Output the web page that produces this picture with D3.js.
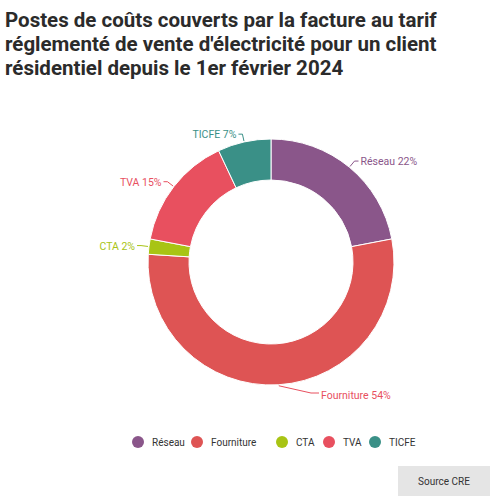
<!DOCTYPE html><html><head><meta charset="utf-8"><script src="https://cdn.jsdelivr.net/npm/d3@7"></script>
<style>body{margin:0;background:#fff;font-family:Roboto,sans-serif}</style></head><body><svg width="500" height="502"></svg>
<script>
const categories=["Réseau","Fourniture","CTA","TVA","TICFE"];
const values=[22,54,2,15,7];
const colors=["#8a568a","#de5454","#a8c414","#e8505f","#3a9087"];
const titleLines=["Postes de coûts couverts par la facture au tarif","réglementé de vente d'électricité pour un client","résidentiel depuis le 1er février 2024"];
const svg=d3.select("svg");
svg.selectAll("text.t").data(titleLines).join("text").attr("x",5).attr("y",(d,i)=>27+i*24)
 .attr("font-size",20.5).attr("font-weight",700).attr("fill","#2b2b2b").text(d=>d);
const cx=271,cy=262,R=123,r=82;
const g=svg.append("g").attr("transform",`translate(${cx},${cy})`);
const pie=d3.pie().sort(null).value(d=>d)(values);
const arc=d3.arc().innerRadius(r).outerRadius(R);
g.selectAll("path").data(pie).join("path").attr("d",arc).attr("fill",(d,i)=>colors[i]).attr("stroke","#fff").attr("stroke-width",1);
const lblColors=["#8a568a","#e8505f","#a8c414","#e8505f","#3a9087"];
pie.forEach((d,i)=>{
 const a=(d.startAngle+d.endAngle)/2;
 const p1=[Math.sin(a)*(R+1),-Math.cos(a)*(R+1)];
 const p2=[Math.sin(a)*(R+8),-Math.cos(a)*(R+8)];
 let right=Math.sin(a)>=0; if(i===1) right=true;
 let p3=[p2[0]+(right?4:-4),p2[1]];
 if(i===1){p2[0]=40;p2[1]=R+8;p3=[48,R+8];}
 g.append("polyline").attr("points",[p1,p2,p3].map(p=>p.join(",")).join(" ")).attr("fill","none").attr("stroke",lblColors[i]).attr("stroke-width",1);
 g.append("text").attr("x",p3[0]+(right?2:-2)).attr("y",p3[1]+(i===1?6:4)).attr("text-anchor",right?"start":"end")
  .attr("font-size",10.5).attr("fill",lblColors[i]).text(categories[i]+" "+values[i]+"%");
});
const lx=[138,197,282,329,375];
const lg=svg.selectAll("g.l").data(categories).join("g").attr("transform",(d,i)=>`translate(${lx[i]},442)`);
lg.append("circle").attr("r",6).attr("fill",(d,i)=>colors[i]);
lg.append("text").attr("x",14).attr("y",4).attr("font-size",10).attr("fill","#333").text(d=>d);
svg.append("rect").attr("x",398).attr("y",466).attr("width",92).attr("height",30).attr("fill","#e5e5e5");
svg.append("text").attr("x",444).attr("y",485).attr("text-anchor","middle").attr("font-size",10).attr("fill","#333").text("Source CRE");
</script></body></html>
